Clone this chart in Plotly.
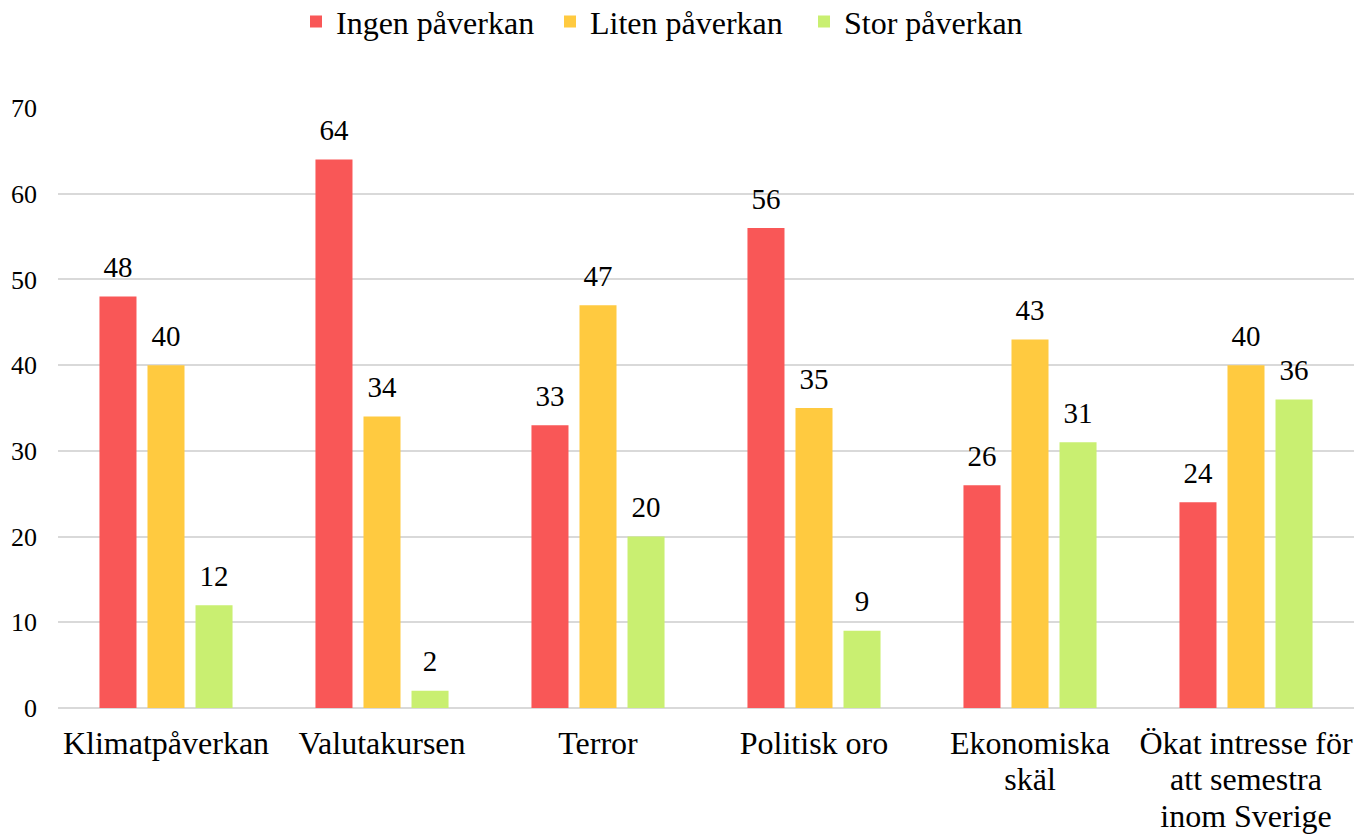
import plotly.graph_objects as go

categories = ["Klimatpåverkan", "Valutakursen", "Terror", "Politisk oro",
              "Ekonomiska<br>skäl", "Ökat intresse för<br>att semestra<br>inom Sverige"]
ingen = [48, 64, 33, 56, 26, 24]
liten = [40, 34, 47, 35, 43, 40]
stor = [12, 2, 20, 9, 31, 36]
series_names = ["Ingen påverkan", "Liten påverkan", "Stor påverkan"]
colors = ["#F95757", "#FFCA40", "#C9EF71"]

font = "Liberation Serif"
fig = go.Figure()
for i, (name, vals, col) in enumerate(zip(series_names, [ingen, liten, stor], colors)):
    fig.add_trace(go.Bar(
        x=categories, y=vals, name=name, marker_color=col, marker_line_width=0,
        offsetgroup=str(i), hoverinfo="x+y+name",
    ))
for i, vals in enumerate([ingen, liten, stor]):
    fig.add_trace(go.Scatter(
        x=categories, y=vals, mode="markers+text", offsetgroup=str(i),
        marker=dict(size=18, opacity=0), text=[str(v) for v in vals],
        textposition="top center", textfont=dict(family=font, size=29, color="black"),
        showlegend=False, hoverinfo="skip", cliponaxis=False,
    ))

# tick labels: 32px text with tighter (28px-based) line spacing
ticktext = ["<br>".join(f'<span style="font-size:32px">{part}</span>' for part in c.split("<br>"))
            for c in categories]

fig.update_layout(
    width=1370, height=836,
    margin=dict(l=58, r=16, t=108, b=128, autoexpand=False),
    paper_bgcolor="white", plot_bgcolor="white",
    barmode="group", bargap=0.333, bargroupgap=0.229,
    scattermode="group", scattergap=0.333,
    font=dict(family=font, size=32, color="black"),
    legend=dict(orientation="h", xref="container", x=296 / 1370, xanchor="left",
                yref="container", y=0.974, yanchor="middle",
                font=dict(family=font, size=32), traceorder="normal",
                itemwidth=30, entrywidth=209, entrywidthmode="pixels"),
    showlegend=True,
)
fig.update_yaxes(range=[0, 70], dtick=10, showgrid=True, gridcolor="#d9d9d9", gridwidth=1.5,
                 zeroline=True, zerolinecolor="#d9d9d9", zerolinewidth=1.5, automargin=False,
                 tickfont=dict(family=font, size=26), ticks="", ticklabelstandoff=20)
fig.update_xaxes(showline=False, tickfont=dict(family=font, size=28), ticks="",
                 tickmode="array", tickvals=categories, ticktext=ticktext,
                 automargin=False, ticklabelstandoff=17)
fig.write_html("out.html", post_script="document.body.style.margin='0';",
               config={"displayModeBar": False})
